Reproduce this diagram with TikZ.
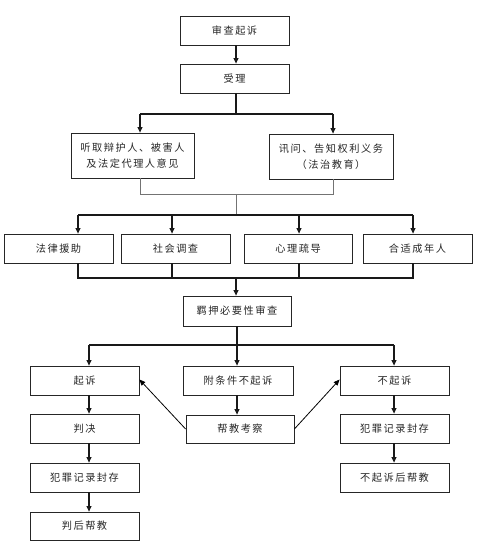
\documentclass[tikz,border=0pt]{standalone}
\usepackage{fontspec}
\newfontfamily\cjk[LetterSpace=15]{Noto Sans CJK SC}
\usetikzlibrary{arrows.meta}
\begin{document}
\begin{tikzpicture}[x=1pt,y=-1pt,
  box/.style={draw=black!85,line width=0.8pt,minimum height=29pt,inner sep=0pt,font=\cjk\fontsize{10.2}{16}\selectfont,text=black!85,align=center},
  conn/.style={line width=1.1pt,draw=black!90},
  arr/.style={conn,-{Triangle[length=5.5pt,width=5pt]}},
  thin/.style={line width=0.6pt,draw=black!55}]
\useasboundingbox (0,0) rectangle (500,545);
\node[box,minimum width=109pt] (sc) at (234.5,30.5) {审查起诉};
\node[box,minimum width=109pt] (sl) at (234.5,78.5) {受理};
\node[box,minimum width=123pt,minimum height=45pt] (tq) at (132.5,155.5) {听取辩护人、被害人\\及法定代理人意见};
\node[box,minimum width=124pt,minimum height=45pt] (xw) at (331,156.5) {讯问、告知权利义务\\（法治教育）};
\node[box,minimum width=109pt] (fl) at (58.5,248.5) {法律援助};
\node[box,minimum width=109pt] (sh) at (175.5,248.5) {社会调查};
\node[box,minimum width=108pt] (xl) at (298,248.5) {心理疏导};
\node[box,minimum width=109pt] (hs) at (417.5,248.5) {合适成年人};
\node[box,minimum width=108pt,minimum height=30pt] (jy) at (237,311) {羁押必要性审查};
\node[box,minimum width=109pt] (qs) at (84.5,380.5) {起诉};
\node[box,minimum width=110pt] (ft) at (238,380.5) {附条件不起诉};
\node[box,minimum width=109pt] (bq) at (394.5,380.5) {不起诉};
\node[box,minimum width=109pt] (pj) at (84.5,428.5) {判决};
\node[box,minimum width=108pt,minimum height=28pt] (bj) at (240,429) {帮教考察};
\node[box,minimum width=109pt] (fz2) at (394.5,428.5) {犯罪记录封存};
\node[box,minimum width=109pt] (fz1) at (84.5,477.5) {犯罪记录封存};
\node[box,minimum width=109pt,minimum height=28pt] (ph) at (84.5,526) {判后帮教};
\node[box,minimum width=109pt] (bh) at (394.5,477.5) {不起诉后帮教};
% top
\draw[arr] (sc.south -| 236,0) -- (sl.north -| 236,0);
\coordinate (s1) at (236,114);
\draw[conn] (sl.south -| 236,0) -- (s1);
\draw[conn] (140,114) -- (333,114);
\draw[arr] (140,114) -- (tq.north -| 140,0);
\draw[arr] (333,114) -- (xw.north -| 333,0);
% merge
\draw[thin] (tq.south -| 140,0) -- (140,194) -- (333,194) -- (xw.south -| 333,0);
\draw[thin] (236,194) -- (236,215);
\draw[conn] (78,215) -- (413,215);
\draw[arr] (78,215) -- (fl.north -| 78,0);
\draw[arr] (172,215) -- (sh.north -| 172,0);
\draw[arr] (299,215) -- (xl.north -| 299,0);
\draw[arr] (413,215) -- (hs.north -| 413,0);
\draw[conn] (fl.south -| 78,0) -- (78,278) -- (413,278) -- (hs.south -| 413,0);
\draw[conn] (sh.south -| 172,0) -- (172,278);
\draw[conn] (xl.south -| 299,0) -- (299,278);
\draw[arr] (236,278) -- (jy.north -| 236,0);
% bottom split
\draw[conn] (jy.south -| 237,0) -- (237,345);
\draw[conn] (89,345) -- (394,345);
\draw[arr] (89,345) -- (qs.north -| 89,0);
\draw[arr] (237,345) -- (ft.north -| 237,0);
\draw[arr] (394,345) -- (bq.north -| 394,0);
\draw[arr] (qs.south -| 89,0) -- (pj.north -| 89,0);
\draw[arr] (pj.south -| 89,0) -- (fz1.north -| 89,0);
\draw[arr] (fz1.south -| 89,0) -- (ph.north -| 89,0);
\draw[arr] (ft.south -| 237,0) -- (bj.north -| 237,0);
\draw[arr] (bq.south -| 394,0) -- (fz2.north -| 394,0);
\draw[arr] (fz2.south -| 394,0) -- (bh.north -| 394,0);
% diagonals
\draw[line width=0.8pt,-{Triangle[length=6pt,width=5pt]}] (bj.west) -- ([yshift=1pt]qs.east);
\draw[line width=0.8pt,-{Triangle[length=6pt,width=5pt]}] (bj.east) -- ([yshift=1pt]bq.west);
\end{tikzpicture}
\end{document}
